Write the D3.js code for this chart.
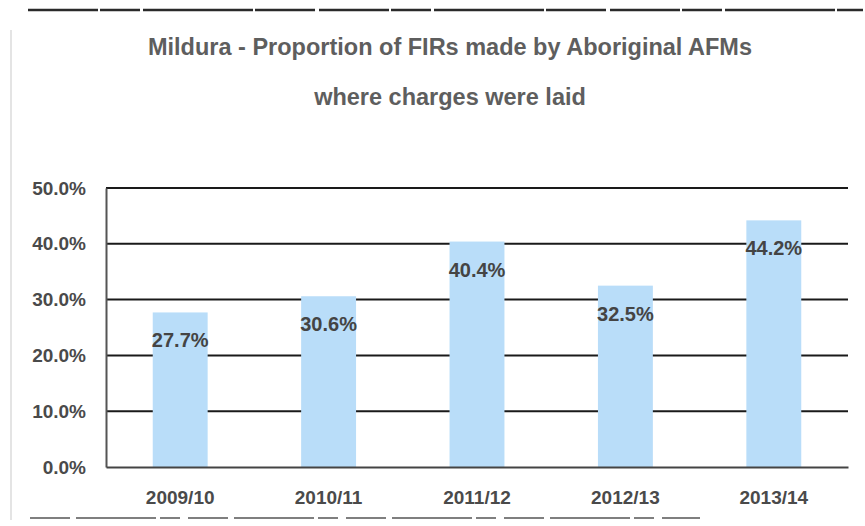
<!DOCTYPE html>
<html>
<head>
<meta charset="utf-8">
<script src="https://cdn.jsdelivr.net/npm/d3@7"></script>
<style>
  html, body { margin: 0; padding: 0; background: #fff; }
  svg { display: block; }
  .narrow { font-family: "Liberation Sans", Arial, sans-serif; }
</style>
</head>
<body>
<svg id="chart" width="865" height="526"></svg>
<script>
// Financial years and the share of FIRs with charges laid
const years = ["2009/10", "2010/11", "2011/12", "2012/13", "2013/14"];
const shares = [27.7, 30.6, 40.4, 32.5, 44.2];
const yTicks = [0, 10, 20, 30, 40, 50];
const titleLines = ["Mildura - Proportion of FIRs made by Aboriginal AFMs", "where charges were laid"];

const svg = d3.select("#chart");
const plot = { left: 106, right: 848, top: 188, bottom: 467 };

// Panel border: top, bottom and a faint left edge
svg.append("line").attr("x1", 28).attr("x2", 863).attr("y1", 10).attr("y2", 10)
  .attr("stroke", "#2a2a2a").attr("stroke-width", 2.5).attr("stroke-dasharray", "70 2 40 3 110 2 60 4");
svg.append("line").attr("x1", 30).attr("x2", 700).attr("y1", 518).attr("y2", 518)
  .attr("stroke", "#555").attr("stroke-width", 1.5).attr("stroke-dasharray", "40 6 80 4 20 8");
svg.append("line").attr("x1", 11).attr("x2", 11).attr("y1", 30).attr("y2", 520)
  .attr("stroke", "#e4e4e4").attr("stroke-width", 2);

// Title
svg.append("g").selectAll("text").data(titleLines).join("text")
  .attr("class", "narrow")
  .attr("x", 450).attr("y", (d, i) => 55 + i * 50)
  .attr("text-anchor", "middle")
  .attr("font-size", 23.5).attr("font-weight", "bold").attr("fill", "#5e5e5e")
  .text(d => d);

const x = d3.scaleBand().domain(years).range([plot.left, plot.right]).paddingInner(0.63).paddingOuter(0.315);
const y = d3.scaleLinear().domain([0, 50]).range([plot.bottom, plot.top]);

// Horizontal gridlines
svg.append("g").selectAll("line").data(yTicks.filter(t => t > 0)).join("line")
  .attr("x1", plot.left).attr("x2", plot.right)
  .attr("y1", d => y(d)).attr("y2", d => y(d))
  .attr("stroke", "#1a1a1a").attr("stroke-width", 2);

// Bars
svg.append("g").selectAll("rect").data(shares).join("rect")
  .attr("x", (d, i) => x(years[i]))
  .attr("width", x.bandwidth())
  .attr("y", d => y(d))
  .attr("height", d => y(0) - y(d))
  .attr("fill", "#b9ddf9");

// Axes
const yAxis = d3.axisLeft(y).tickValues(yTicks).tickSize(0).tickPadding(20)
  .tickFormat(d => d.toFixed(1) + "%");
const gy = svg.append("g").attr("transform", `translate(${plot.left},0)`).call(yAxis);
gy.select(".domain").attr("stroke", "#555").attr("stroke-width", 2);
gy.selectAll("text").attr("class", "narrow").attr("font-size", 19).attr("font-weight", "bold").attr("fill", "#4a4a4a");

const xAxis = d3.axisBottom(x).tickSize(0).tickPadding(24);
const gx = svg.append("g").attr("transform", `translate(0,${plot.bottom})`).call(xAxis);
gx.select(".domain").attr("stroke", "#444").attr("stroke-width", 2);
gx.selectAll("text").attr("class", "narrow").attr("font-size", 19).attr("font-weight", "bold").attr("fill", "#4a4a4a");

// Value labels inside the top of each bar
svg.append("g").selectAll("text").data(shares).join("text")
  .attr("class", "narrow")
  .attr("x", (d, i) => x(years[i]) + x.bandwidth() / 2)
  .attr("y", d => y(d) + 35)
  .attr("text-anchor", "middle")
  .attr("font-size", 20).attr("font-weight", "bold").attr("fill", "#444")
  .text(d => d.toFixed(1) + "%");
</script>
</body>
</html>
